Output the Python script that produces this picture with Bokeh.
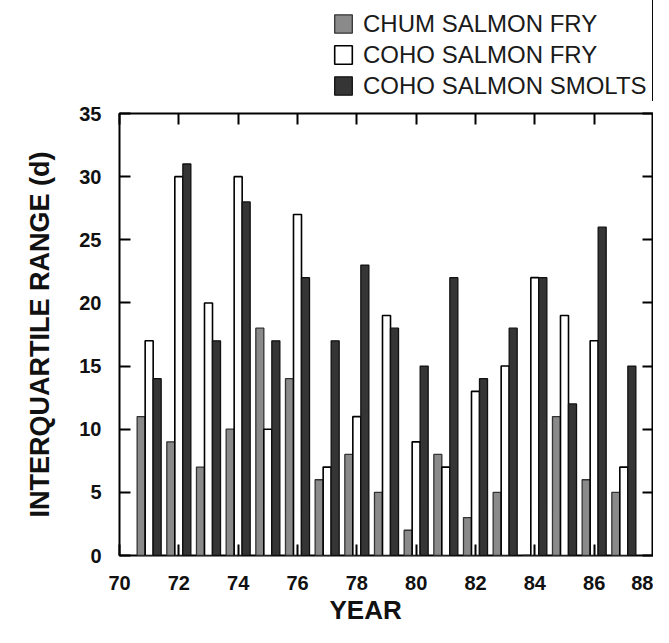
from bokeh.plotting import figure
from bokeh.layouts import column
from bokeh.models import (ColumnDataSource, Legend, LegendItem, LinearAxis,
                          Range1d, FixedTicker, Title)
from bokeh.transform import dodge
from bokeh.embed import file_html
from bokeh.resources import INLINE

# ---- data ----
years = [71, 72, 73, 74, 75, 76, 77, 78, 79, 80, 81, 82, 83, 84, 85, 86, 87]
chum_fry = [11, 9, 7, 10, 18, 14, 6, 8, 5, 2, 8, 3, 5, 0, 11, 6, 5]
coho_fry = [17, 30, 20, 30, 10, 27, 7, 11, 19, 9, 7, 13, 15, 22, 19, 17, 7]
coho_smolts = [14, 31, 17, 28, 17, 22, 17, 23, 18, 15, 22, 14, 18, 22, 12, 26, 15]
series_names = ["CHUM SALMON FRY", "COHO SALMON FRY", "COHO SALMON SMOLTS"]
x_ticks = [70, 72, 74, 76, 78, 80, 82, 84, 86, 88]
y_ticks = [0, 5, 10, 15, 20, 25, 30, 35]
x_title = "YEAR"
y_title = "INTERQUARTILE RANGE (d)"

chum_style = dict(fill_color="#8a8a8a", line_color="#333333", line_width=1.3)
coho_style = dict(fill_color="white", line_color="black", line_width=1.6)
smolt_style = dict(fill_color="#353535", line_color="#111111", line_width=1.3)

source = ColumnDataSource(dict(year=years, chum=chum_fry, coho=coho_fry,
                               smolt=coho_smolts))

# ---------- legend strip (own small figure above the chart) ----------
lf = figure(width=653, height=101, x_range=Range1d(0, 1), y_range=Range1d(0, 1),
            x_axis_type=None, y_axis_type=None, output_backend="svg",
            toolbar_location=None, min_border=0)
lf.title.visible = False
lf.xgrid.visible = False
lf.ygrid.visible = False
lf.outline_line_color = None
# same series, drawn outside this strip's range: only their legend swatches show
lg_chum = lf.vbar(x="year", top="chum", width=0.1, source=source, **chum_style)
lg_coho = lf.vbar(x="year", top="coho", width=0.1, source=source, **coho_style)
lg_smolt = lf.vbar(x="year", top="smolt", width=0.1, source=source, **smolt_style)
legend = Legend(items=[LegendItem(label=series_names[0], renderers=[lg_chum]),
                       LegendItem(label=series_names[1], renderers=[lg_coho]),
                       LegendItem(label=series_names[2], renderers=[lg_smolt])],
                location=(213, 0), orientation="vertical")
legend.padding = 0
legend.margin = 0
legend.spacing = 0
legend.glyph_width = 22
legend.glyph_height = 23
legend.label_height = 31
legend.label_standoff = 9
legend.label_text_font = "Liberation Sans"
legend.label_text_font_size = "24px"
legend.label_text_color = "#1a1a1a"
legend.background_fill_alpha = 0
legend.border_line_color = None
lf.add_layout(legend, "center")

# ---------- main chart ----------
p = figure(width=653, height=526, x_range=Range1d(70, 88), y_range=Range1d(0, 35),
           output_backend="svg", toolbar_location=None,
           min_border_left=115, min_border_right=0, min_border_top=12,
           min_border_bottom=72)
p.title.visible = False
p.xgrid.visible = False
p.ygrid.visible = False
p.outline_line_color = "black"
p.outline_line_width = 2
p.background_fill_color = "white"
p.border_fill_color = "white"

bw = 0.27
p.vbar(x=dodge("year", -bw, range=p.x_range), top="chum", bottom=0, width=bw,
       source=source, **chum_style)
p.vbar(x="year", top="coho", bottom=0, width=bw, source=source, **coho_style)
p.vbar(x=dodge("year", bw, range=p.x_range), top="smolt", bottom=0, width=bw,
       source=source, **smolt_style)

tick_font = "Liberation Sans"

def style_axis(ax, show_labels):
    ax.axis_line_color = None
    ax.major_tick_in = 11
    ax.major_tick_out = 0
    ax.minor_tick_in = 0
    ax.minor_tick_out = 0
    ax.major_tick_line_width = 2
    ax.major_tick_line_color = "black"
    if show_labels:
        ax.major_label_text_font = tick_font
        ax.major_label_text_font_style = "bold"
        ax.major_label_text_font_size = "20px"
        ax.major_label_text_color = "#111111"
    else:
        ax.major_label_text_font_size = "0px"
        ax.major_label_standoff = 0

xa = p.xaxis[0]
xa.ticker = FixedTicker(ticks=x_ticks)
style_axis(xa, True)
xa.major_label_standoff = 20

ya = p.yaxis[0]
ya.ticker = FixedTicker(ticks=y_ticks)
style_axis(ya, True)
ya.major_label_standoff = 18

top_ax = LinearAxis(ticker=FixedTicker(ticks=x_ticks))
style_axis(top_ax, False)
p.add_layout(top_ax, "above")
right_ax = LinearAxis(ticker=FixedTicker(ticks=y_ticks))
style_axis(right_ax, False)
p.add_layout(right_ax, "right")

yt = Title(text=y_title, align="left", offset=38, text_font="Liberation Sans",
           text_font_style="bold", text_font_size="27px", text_color="#111111")
yt.standoff = 44
p.add_layout(yt, "left")
xt = Title(text=x_title, align="left", offset=210, text_font="Liberation Sans",
           text_font_style="bold", text_font_size="26px", text_color="#111111")
xt.standoff = 0
p.add_layout(xt, "below")

layout = column(lf, p, spacing=0)
open("out.html", "w").write(file_html(layout, INLINE))
